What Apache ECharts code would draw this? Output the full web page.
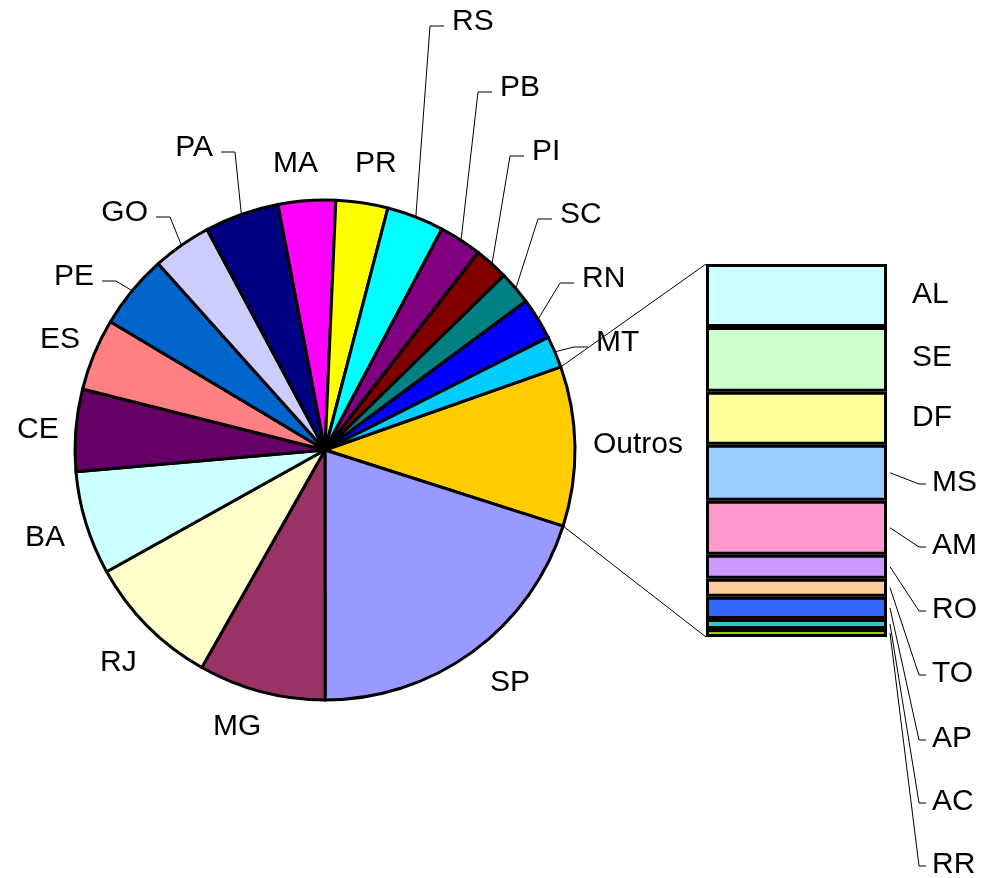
<!DOCTYPE html>
<html>
<head>
<meta charset="utf-8">
<title>Pie of bar</title>
<script src="https://cdn.jsdelivr.net/npm/echarts@6/dist/echarts.min.js"></script>
<style>
  html, body { margin: 0; padding: 0; background: #fff; }
  #chart { width: 989px; height: 878px; }
</style>
</head>
<body>
<div id="chart"></div>
<script>
// pie slices, clockwise starting at Outros
var pieNames = ['Outros','SP','MG','RJ','BA','CE','ES','PE','GO','PA','MA','PR','RS','PB','PI','SC','RN','MT'];
var pieValues = [10.3, 20.05, 8.2, 8.7, 6.7, 5.3, 4.65, 4.8, 3.8, 4.8, 3.7, 3.35, 3.7, 2.75, 2.2, 2.15, 2.7, 2.05];
var pieColors = ['#FFCC00','#9999FF','#993366','#FFFFCC','#CCFFFF','#660066','#FF8080','#0066CC','#CCCCFF',
                 '#000080','#FF00FF','#FFFF00','#00FFFF','#800080','#800000','#008080','#0000FF','#00CCFF'];
// label anchor x, middle y, text alignment; leader line flag
var pieLabelPos = [[593,445,'left'],[490,683,'left'],[213,727,'left'],[100,663,'left'],[25,538,'left'],
                   [17,430,'left'],[40,340,'left'],[94,277,'right'],[148,213,'right'],[213,148,'right'],
                   [273,164,'left'],[355,164,'left'],[452,22,'left'],[500,88,'left'],[532,152,'left'],
                   [560,215,'left'],[582,279,'left'],[596,343,'left']];
var pieLines = [0,0,0,0,0,0,0,1,1,1,0,0,1,1,1,1,1,1];

// breakdown of "Outros", bottom to top
var barNames = ['RR','AC','AP','TO','RO','AM','MS','DF','SE','AL'];
var barValues = [0.22, 0.28, 0.61, 0.50, 0.66, 1.49, 1.55, 1.46, 1.79, 1.74];
var barColors = ['#99CC00','#33CCCC','#3366FF','#FFCC99','#CC99FF','#FF99CC','#99CCFF','#FFFF99','#CCFFCC','#CCFFFF'];
var barLabelPos = [[932,865],[932,802],[932,739],[932,674],[932,610],[932,546],[932,483],[912,418],[912,358],[912,295]];
var barLines = [1,1,1,1,1,1,1,0,0,0];

var cx = 325, cy = 450, R = 250;
var startAngle = 19.4;
var gridL = 706, gridT = 264, gridW = 181, gridH = 373;
var font = "'Liberation Sans', Arial, sans-serif";
var fsize = 30;

var pieTotal = pieValues.reduce(function (a, b) { return a + b; }, 0);
var barTotal = barValues.reduce(function (a, b) { return a + b; }, 0);

// mid angle of every slice (degrees, counter-clockwise from +x)
var midAngles = [];
var acc = 0;
pieValues.forEach(function (v) {
    midAngles.push(startAngle - (acc + v / 2) / pieTotal * 360);
    acc += v;
});

var chart = echarts.init(document.getElementById('chart'));

var pieData = pieNames.map(function (n, i) {
    return {
        name: n, value: pieValues[i],
        itemStyle: { color: pieColors[i] },
        labelLine: { show: !!pieLines[i] }
    };
});

var series = [{
    type: 'pie',
    center: [cx, cy],
    radius: R,
    startAngle: startAngle,
    clockwise: true,
    animation: false,
    silent: true,
    data: pieData,
    itemStyle: { borderColor: '#000', borderWidth: 3 },
    label: { show: true, position: 'outside', formatter: '{b}', color: '#000', fontSize: fsize,
             fontFamily: font, overflow: 'none', edgeDistance: 0, bleedMargin: 0 },
    labelLine: { lineStyle: { color: '#000', width: 1 }, smooth: false },
    labelLayout: function (p) {
        var pos = pieLabelPos[p.dataIndex];
        var out = { x: pos[0], y: pos[1], align: pos[2], verticalAlign: 'middle' };
        if (pieLines[p.dataIndex]) {
            var a = midAngles[p.dataIndex] * Math.PI / 180;
            var ex = cx + (R + 1) * Math.cos(a), ey = cy - (R + 1) * Math.sin(a);
            var dir = pos[2] === 'left' ? -1 : 1;
            out.labelLinePoints = [[ex, ey], [pos[0] + dir * 22, pos[1] + 4], [pos[0] + dir * 8, pos[1] + 4]];
        }
        return out;
    }
}];

barNames.forEach(function (n, i) {
    series.push({
        type: 'bar',
        name: n,
        stack: 'outros',
        barWidth: '100%',
        animation: false,
        silent: true,
        data: [barValues[i]],
        itemStyle: { color: barColors[i], borderColor: '#000', borderWidth: 3 },
        label: { show: true, formatter: n, color: '#000', fontSize: fsize, fontFamily: font },
        labelLayout: { x: barLabelPos[i][0], y: barLabelPos[i][1], align: 'left', verticalAlign: 'middle' }
    });
});

// connector lines from the Outros slice to the bar
var a1 = startAngle * Math.PI / 180;
var a2 = (startAngle - pieValues[0] / pieTotal * 360) * Math.PI / 180;
var graphics = [
    { type: 'line', silent: true, z: 0,
      shape: { x1: cx + R * Math.cos(a1), y1: cy - R * Math.sin(a1), x2: gridL, y2: gridT },
      style: { stroke: '#000', lineWidth: 1 } },
    { type: 'line', silent: true, z: 0,
      shape: { x1: cx + R * Math.cos(a2), y1: cy - R * Math.sin(a2), x2: gridL, y2: gridT + gridH },
      style: { stroke: '#000', lineWidth: 1 } }
];

chart.setOption({
    backgroundColor: '#fff',
    grid: { left: gridL, top: gridT, width: gridW, height: gridH },
    xAxis: { type: 'category', data: ['Outros'], show: false },
    yAxis: { type: 'value', min: 0, max: barTotal, show: false },
    graphic: graphics,
    series: series
});

// leader lines for the bar labels, from the middle of each segment
var cum = 0;
barValues.forEach(function (v, i) {
    var mid = chart.convertToPixel({ gridIndex: 0 }, [0, cum + v / 2]);
    cum += v;
    if (!barLines[i]) return;
    var lx = barLabelPos[i][0], ly = barLabelPos[i][1] + 1;
    graphics.push({
        type: 'polyline', silent: true, z: 10,
        shape: { points: [[gridL + gridW + 3, mid[1]], [lx - 13, ly], [lx - 6, ly]] },
        style: { stroke: '#000', lineWidth: 1, fill: null }
    });
});
chart.setOption({ graphic: graphics });
</script>
</body>
</html>
